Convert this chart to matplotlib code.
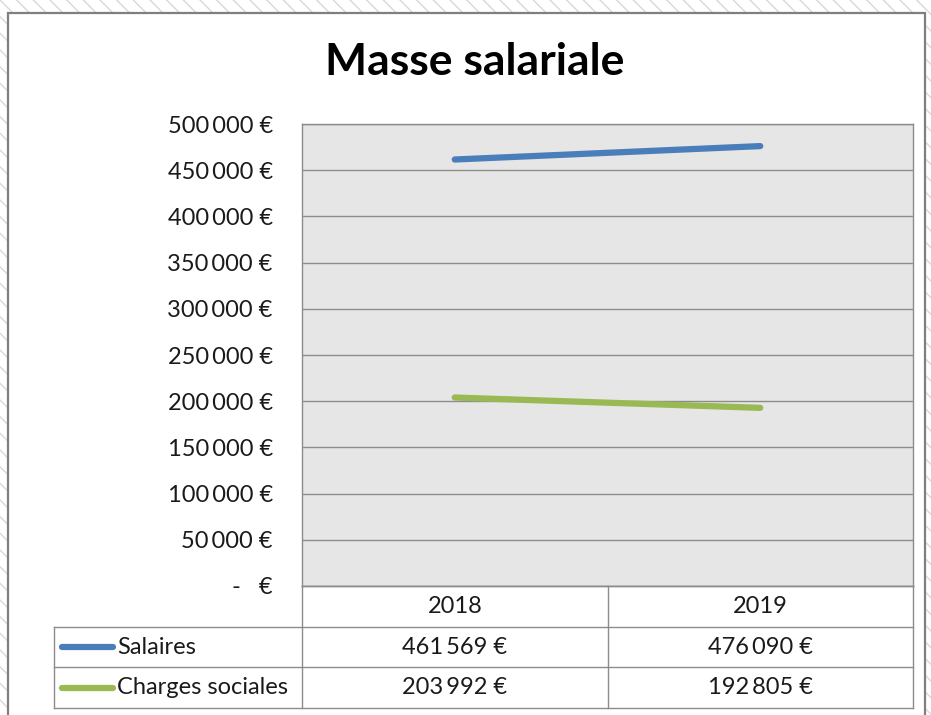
import matplotlib
matplotlib.use("Agg")
import matplotlib.pyplot as plt
from matplotlib.patches import Rectangle
from matplotlib.lines import Line2D
from matplotlib.ticker import FuncFormatter

# data
years = ["2018", "2019"]
salaires = [461569, 476090]
charges = [203992, 192805]
series_names = ["Salaires", "Charges sociales"]
series_colors = ["#4A7EBB", "#98B954"]

W, H = 931, 715
fig = plt.figure(figsize=(W / 100, H / 100), dpi=100)
plt.rcParams['font.family'] = ['Lato', 'DejaVu Sans']


def fx(px):
    return px / W


def fy(py):
    return 1 - py / H


# hatched sheet background + white chart frame
bg = Rectangle((0, 0), 1, 1, transform=fig.transFigure, facecolor="white",
               edgecolor="#d8d8d8", hatch="\\\\", linewidth=0, zorder=-10)
fig.add_artist(bg)
frame = Rectangle((fx(8), fy(730)), fx(925) - fx(8), fy(13) - fy(730),
                  transform=fig.transFigure, facecolor="white",
                  edgecolor="#7f7f7f", linewidth=1.6, zorder=-9)
fig.add_artist(frame)

# plot area
left, right, top, bottom = 302, 913, 124, 586
ax = fig.add_axes([fx(left), fy(bottom), fx(right) - fx(left), fy(top) - fy(bottom)])
ax.set_facecolor("#E6E6E6")

x = list(range(len(years)))
for vals, c in zip([salaires, charges], series_colors):
    ax.plot(x, vals, color=c, linewidth=4.5, solid_capstyle="round")

ax.set_xlim(-0.5, len(years) - 0.5)
ax.set_ylim(0, 500000)
ax.set_yticks(range(0, 500001, 50000))
ax.yaxis.grid(True, color="#8c8c8c", linewidth=1)
ax.set_axisbelow(True)
ax.set_xticks([])


def euro(v, pos):
    if v == 0:
        return "-   €"
    return f"{int(v):,}".replace(",", "\u2009") + " €"


ax.yaxis.set_major_formatter(FuncFormatter(euro))
ax.tick_params(axis="y", length=0, pad=21, labelsize=17, labelcolor="#1a1a1a")
for s in ax.spines.values():
    s.set_color("#8c8c8c")
    s.set_linewidth(1)

fig.text(fx(475), fy(62), "Masse salariale", ha="center", va="center",
         fontsize=32, fontweight="bold", color="black")

# data table below the plot
row_y = [586, 627, 667, 708]
col_x = [54, 302, 608, 913]
gc = "#8c8c8c"


def hline(x0, x1, y):
    fig.add_artist(Line2D([fx(x0), fx(x1)], [fy(y), fy(y)], color=gc, lw=1,
                          transform=fig.transFigure))


def vline(xp, y0, y1):
    fig.add_artist(Line2D([fx(xp), fx(xp)], [fy(y0), fy(y1)], color=gc, lw=1,
                          transform=fig.transFigure))


hline(col_x[1], col_x[3], row_y[0])
hline(col_x[0], col_x[3], row_y[1])
hline(col_x[0], col_x[3], row_y[2])
hline(col_x[0], col_x[3], row_y[3])
vline(col_x[0], row_y[1], row_y[3])
for cx in col_x[1:]:
    vline(cx, row_y[0], row_y[3])


def fmt_cell(v):
    return f"{v:,}".replace(",", "\u2009") + " €"


for i, yr in enumerate(years):
    cx = (col_x[i + 1] + col_x[i + 2]) / 2
    fig.text(fx(cx), fy((row_y[0] + row_y[1]) / 2), yr, ha="center", va="center",
             fontsize=17, color="#1a1a1a")

for r, (name, vals, c) in enumerate(zip(series_names, [salaires, charges], series_colors)):
    cy = (row_y[r + 1] + row_y[r + 2]) / 2
    fig.add_artist(Line2D([fx(62), fx(113)], [fy(cy), fy(cy)], color=c, lw=4.5,
                          solid_capstyle="round", transform=fig.transFigure))
    fig.text(fx(117), fy(cy), name, ha="left", va="center", fontsize=17, color="#1a1a1a")
    for i, v in enumerate(vals):
        cx = (col_x[i + 1] + col_x[i + 2]) / 2
        fig.text(fx(cx), fy(cy), fmt_cell(v), ha="center", va="center",
                 fontsize=17, color="#1a1a1a")

fig.savefig("out.png", dpi=100)
